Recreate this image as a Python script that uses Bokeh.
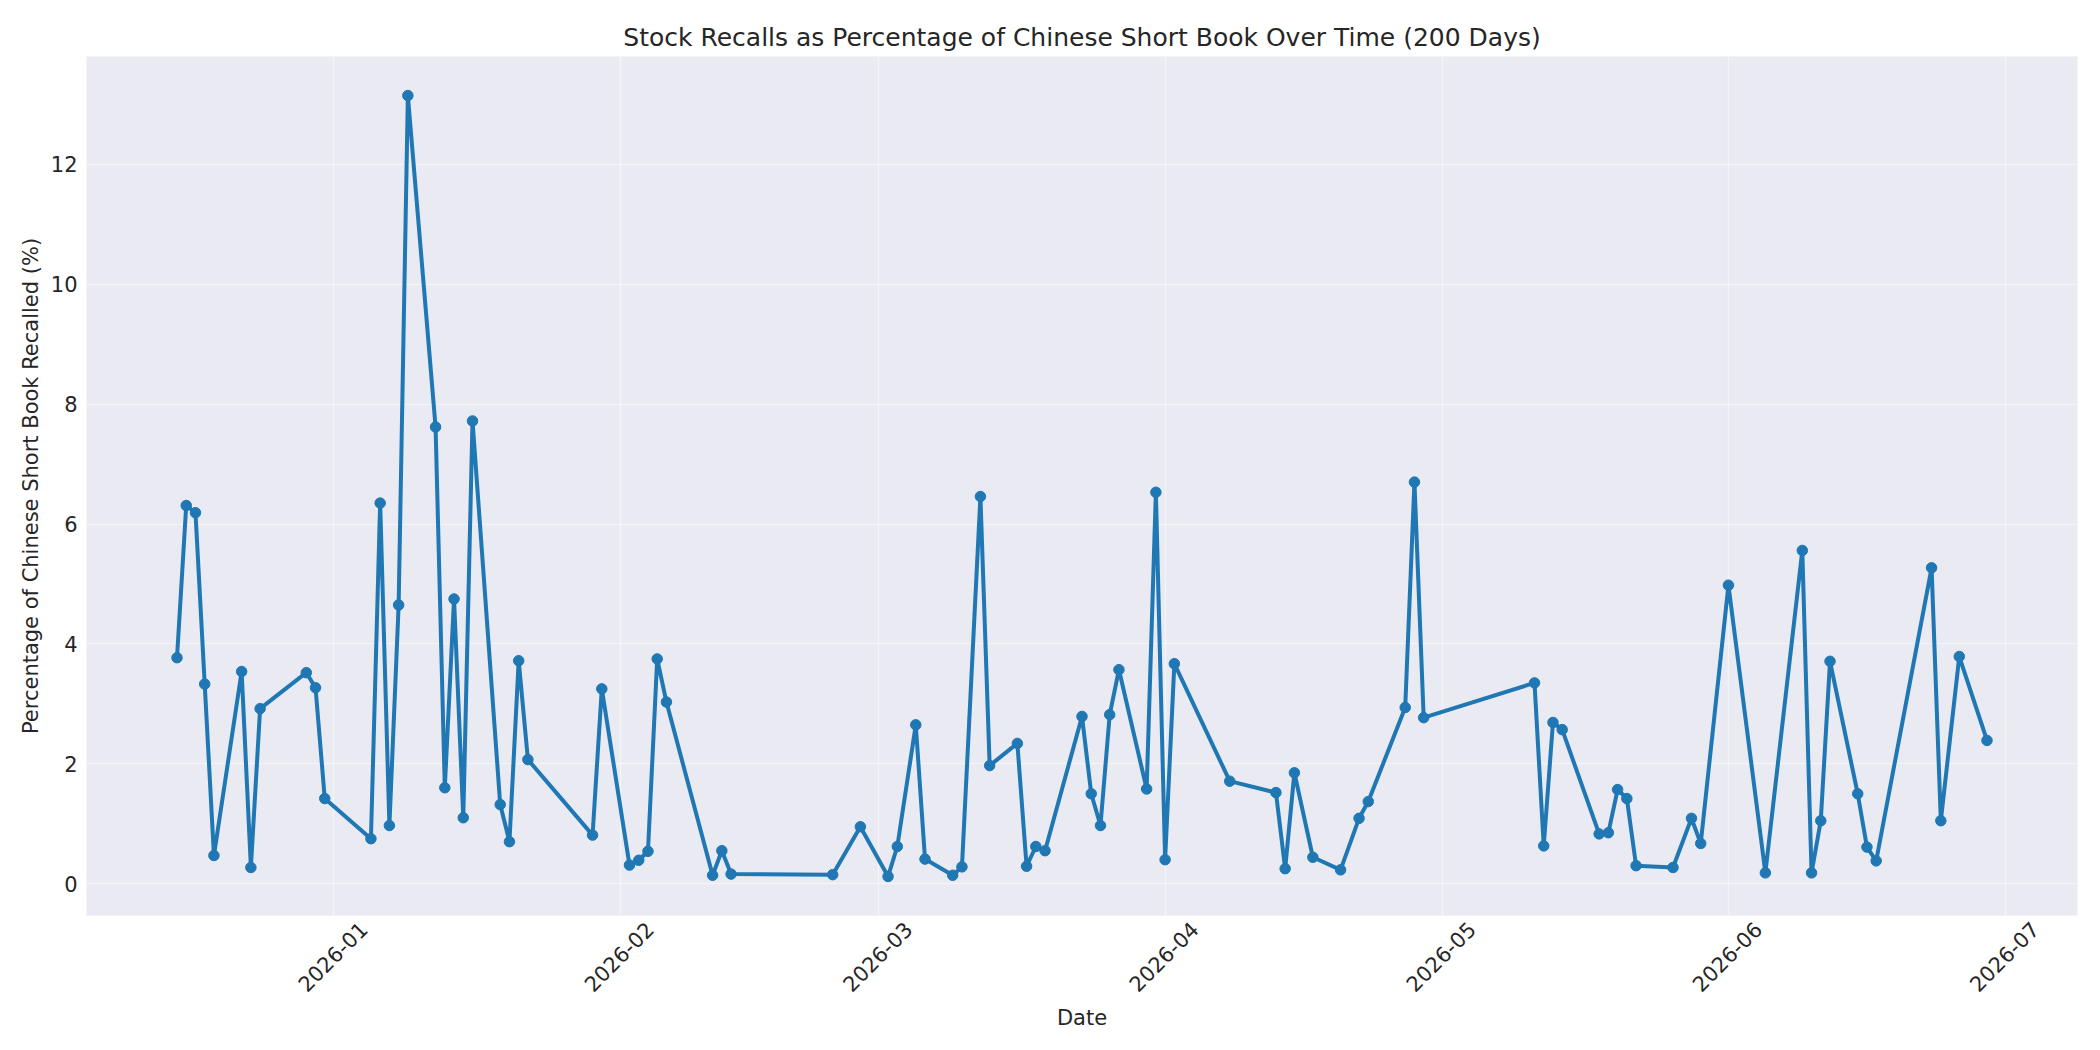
import math
import pandas as pd
from bokeh.plotting import figure
from bokeh.models import Range1d, DatetimeTickFormatter, MonthsTicker, FixedTicker
from bokeh.embed import file_html
from bokeh.resources import INLINE

dates = ["2025-12-15","2025-12-16","2025-12-17","2025-12-18","2025-12-19","2025-12-22","2025-12-23","2025-12-24",
         "2025-12-29","2025-12-30","2025-12-31",
         "2026-01-05","2026-01-06","2026-01-07","2026-01-08","2026-01-09","2026-01-12","2026-01-13","2026-01-14",
         "2026-01-15","2026-01-16","2026-01-19","2026-01-20","2026-01-21","2026-01-22","2026-01-29","2026-01-30",
         "2026-02-02","2026-02-03","2026-02-04","2026-02-05","2026-02-06","2026-02-11","2026-02-12","2026-02-13",
         "2026-02-24","2026-02-27",
         "2026-03-02","2026-03-03","2026-03-05","2026-03-06","2026-03-09","2026-03-10","2026-03-12","2026-03-13",
         "2026-03-16","2026-03-17","2026-03-18","2026-03-19","2026-03-23","2026-03-24","2026-03-25","2026-03-26",
         "2026-03-27","2026-03-30","2026-03-31",
         "2026-04-01","2026-04-02","2026-04-08","2026-04-13","2026-04-14","2026-04-15","2026-04-17","2026-04-20",
         "2026-04-22","2026-04-23","2026-04-27","2026-04-28","2026-04-29",
         "2026-05-11","2026-05-12","2026-05-13","2026-05-14","2026-05-18","2026-05-19","2026-05-20","2026-05-21",
         "2026-05-22","2026-05-26","2026-05-28","2026-05-29",
         "2026-06-01","2026-06-05","2026-06-09","2026-06-10","2026-06-11","2026-06-12","2026-06-15","2026-06-16",
         "2026-06-17","2026-06-23","2026-06-24","2026-06-26","2026-06-29"]

recall_pct = [3.77, 6.31, 6.19, 3.33, 0.47, 3.54, 0.27, 2.92, 3.52, 3.27, 1.42,
              0.75, 6.35, 0.97, 4.65, 13.15, 7.62, 1.60, 4.75, 1.10, 7.72, 1.32, 0.70, 3.72, 2.07, 0.81, 3.25,
              0.31, 0.39, 0.54, 3.75, 3.03, 0.14, 0.55, 0.16, 0.15, 0.95,
              0.12, 0.62, 2.65, 0.41, 0.14, 0.28, 6.46, 1.97, 2.34, 0.29, 0.62, 0.55, 2.79, 1.50, 0.97, 2.82,
              3.57, 1.58, 6.53,
              0.40, 3.67, 1.71, 1.52, 0.25, 1.85, 0.44, 0.23, 1.09, 1.37, 2.94, 6.70, 2.77,
              3.35, 0.63, 2.69, 2.57, 0.83, 0.85, 1.57, 1.42, 0.30, 0.27, 1.09, 0.67,
              4.98, 0.18, 5.56, 0.18, 1.05, 3.71, 1.50, 0.61, 0.38, 5.27, 1.05, 3.79, 2.39]

y_ticks = [0, 2, 4, 6, 8, 10, 12]

title_text = "Stock Recalls as Percentage of Chinese Short Book Over Time (200 Days)"
x_label = "Date"
y_label = "Percentage of Chinese Short Book Recalled (%)"

x = pd.to_datetime(dates)
x_min, x_max = x.min(), x.max()
x_pad = (x_max - x_min) * 0.05
y_min, y_max = min(recall_pct), max(recall_pct)
y_pad = (y_max - y_min) * 0.05

FONT = "DejaVu Sans"
TXT = "#262626"
LINE = "#1f77b4"

p = figure(width=2084, height=1034, x_axis_type="datetime", output_backend="svg",
           toolbar_location=None,
           x_range=Range1d(x_min - x_pad, x_max + x_pad),
           y_range=Range1d(y_min - y_pad, y_max + y_pad),
           min_border_left=86, min_border_right=7, min_border_top=56, min_border_bottom=119)

p.background_fill_color = "#EAEAF2"
p.border_fill_color = "white"
p.outline_line_color = None

p.title.text = title_text
p.title.align = "center"
p.title.text_font = FONT
p.title.text_font_size = "25px"
p.title.text_font_style = "normal"
p.title.text_color = TXT
p.title.offset = 0

p.line(x, recall_pct, line_color=LINE, line_width=4)
p.scatter(x, recall_pct, size=10.5, fill_color=LINE, line_color=LINE)

# month ticks; rotated labels are centred on the month line as in the original (label anchor nudged)
month_starts = pd.date_range(x_min - x_pad, x_max + x_pad, freq="MS")
label_nudge_ms = 3 * 86400000
p.xaxis.ticker = FixedTicker(ticks=[ts.value // 10**6 + label_nudge_ms for ts in month_starts])
p.xgrid.ticker = MonthsTicker(months=list(range(1, 13)))
p.xaxis.formatter = DatetimeTickFormatter(months="%Y-%m", days="%Y-%m")
p.xaxis.major_label_orientation = math.pi / 4
p.xaxis.major_label_text_align = "center"
p.yaxis.ticker = FixedTicker(ticks=y_ticks)

for ax in (p.xaxis, p.yaxis):
    ax.axis_line_color = None
    ax.major_tick_line_color = None
    ax.minor_tick_line_color = None
    ax.major_tick_out = 0
    ax.major_tick_in = 0
    ax.major_label_text_font = FONT
    ax.major_label_text_font_size = "21px"
    ax.major_label_text_color = TXT
    ax.axis_label_text_font = FONT
    ax.axis_label_text_font_size = "21px"
    ax.axis_label_text_font_style = "normal"
    ax.axis_label_text_color = TXT

p.xaxis.axis_label = x_label
p.yaxis.axis_label = y_label
p.xaxis.major_label_standoff = 10
p.yaxis.major_label_standoff = 9
p.xaxis.axis_label_standoff = 4
p.yaxis.axis_label_standoff = 5

p.xgrid.grid_line_color = "white"
p.ygrid.grid_line_color = "white"
p.xgrid.grid_line_alpha = 0.45
p.ygrid.grid_line_alpha = 0.45
p.xgrid.grid_line_width = 1.5
p.ygrid.grid_line_width = 1.5

open("out.html", "w").write(file_html(p, INLINE))
